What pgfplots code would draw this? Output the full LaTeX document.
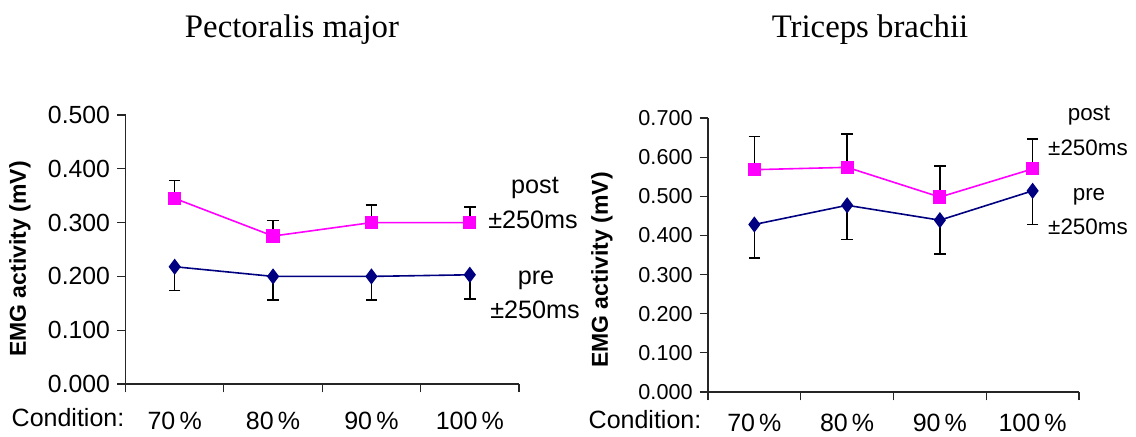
\documentclass[border=0pt]{standalone}
\usepackage{fontspec}
\setmainfont{Liberation Sans}
\newfontfamily\timesf{Liberation Serif}
\usepackage{pgfplots}
\pgfplotsset{compat=1.18}
\definecolor{postc}{RGB}{255,0,255}
\definecolor{prec}{RGB}{0,0,128}
\begin{document}
\begin{tikzpicture}
\path[use as bounding box] (0,0) rectangle (568pt,218pt);
\pgfplotsset{emg/.style={
  scale only axis, anchor=south west,
  axis x line*=bottom, axis y line*=left,
  axis line style={black!85, line width=0.6pt},
  tick style={black!85, line width=0.6pt},
  tick align=outside, major tick length=4.2pt,
  xmin=0.5, xmax=4.5,
  xtick={0.5,1.5,2.5,3.5,4.5}, xticklabels={},
  extra x ticks={1,2,3,4},
  extra x tick labels={70\,\%,80\,\%,90\,\%,100\,\%},
  extra x tick style={major tick length=0pt, tick style={draw=none},
    xticklabel style={anchor=base, font=\fontsize{12.5}{15}\selectfont}},
  ymin=0,
  clip=false,
  error bars/error bar style={black, line width=0.8pt},
  error bars/error mark=|,
  error bars/error mark options={black, mark size=2.9pt, line width=0.8pt},
}}
% Left panel
\begin{axis}[emg, at={(62.75pt,26pt)}, width=196.75pt, height=134.5pt,
  ymax=0.5, ytick={0,0.1,0.2,0.3,0.4,0.5},
  yticklabels={0.000,0.100,0.200,0.300,0.400,0.500},
  yticklabel style={font=\fontsize{12.4}{15}\selectfont},
  extra x tick style={xticklabel style={yshift=-22.6pt}}]
\addplot[postc, line width=0.8pt, mark=square*, mark size=2.9pt,
  error bars/.cd, y dir=plus, y explicit]
  coordinates {(1,0.345) +- (0,0.033) (2,0.275) +- (0,0.029)
               (3,0.300) +- (0,0.033) (4,0.300) +- (0,0.029)};
\addplot[prec, line width=0.8pt, mark=diamond*, mark size=3.4pt,
  error bars/.cd, y dir=minus, y explicit]
  coordinates {(1,0.218) +- (0,0.044) (2,0.200) +- (0,0.044)
               (3,0.200) +- (0,0.044) (4,0.203) +- (0,0.045)};
\end{axis}
% Right panel
\begin{axis}[emg, at={(354pt,22pt)}, width=185.5pt, height=137pt,
  ymax=0.7, ytick={0,0.1,0.2,0.3,0.4,0.5,0.6,0.7},
  yticklabels={0.000,0.100,0.200,0.300,0.400,0.500,0.600,0.700},
  yticklabel style={font=\fontsize{10.8}{13}\selectfont},
  extra x tick style={xticklabel style={yshift=-19.6pt}}]
\addplot[postc, line width=0.8pt, mark=square*, mark size=2.9pt,
  error bars/.cd, y dir=plus, y explicit]
  coordinates {(1,0.568) +- (0,0.085) (2,0.574) +- (0,0.085)
               (3,0.498) +- (0,0.079) (4,0.570) +- (0,0.077)};
\addplot[prec, line width=0.8pt, mark=diamond*, mark size=3.4pt,
  error bars/.cd, y dir=minus, y explicit]
  coordinates {(1,0.428) +- (0,0.086) (2,0.477) +- (0,0.087)
               (3,0.439) +- (0,0.086) (4,0.514) +- (0,0.086)};
\end{axis}
% Titles
\node[font=\timesf\fontsize{16.4}{19}\selectfont] at (146pt,203pt) {Pectoralis major};
\node[font=\timesf\fontsize{16.4}{19}\selectfont] at (435pt,203pt) {Triceps brachii};
% Y labels
\node[rotate=90, font=\bfseries\fontsize{11.5}{13}\selectfont] at (10pt,88.5pt) {EMG activity (mV)};
\node[rotate=90, font=\bfseries\fontsize{11.5}{13}\selectfont] at (301pt,83pt) {EMG activity (mV)};
% Condition
\node[font=\fontsize{12.5}{15}\selectfont] at (34pt,9pt) {Condition:};
\node[font=\fontsize{12.5}{15}\selectfont] at (322.5pt,8pt) {Condition:};
% series labels
\begin{scope}[every node/.style={font=\fontsize{12.6}{15}\selectfont}]
\node at (267.5pt,124pt) {post};
\node at (266.5pt,108pt) {±250ms};
\node at (268pt,78pt) {pre};
\node at (267.5pt,63pt) {±250ms};
\end{scope}
\begin{scope}[every node/.style={font=\fontsize{11.2}{13}\selectfont}]
\node at (544.5pt,160pt) {post};
\node at (544pt,144pt) {±250ms};
\node at (544.5pt,119.5pt) {pre};
\node at (544pt,104.5pt) {±250ms};
\end{scope}
\end{tikzpicture}
\end{document}
